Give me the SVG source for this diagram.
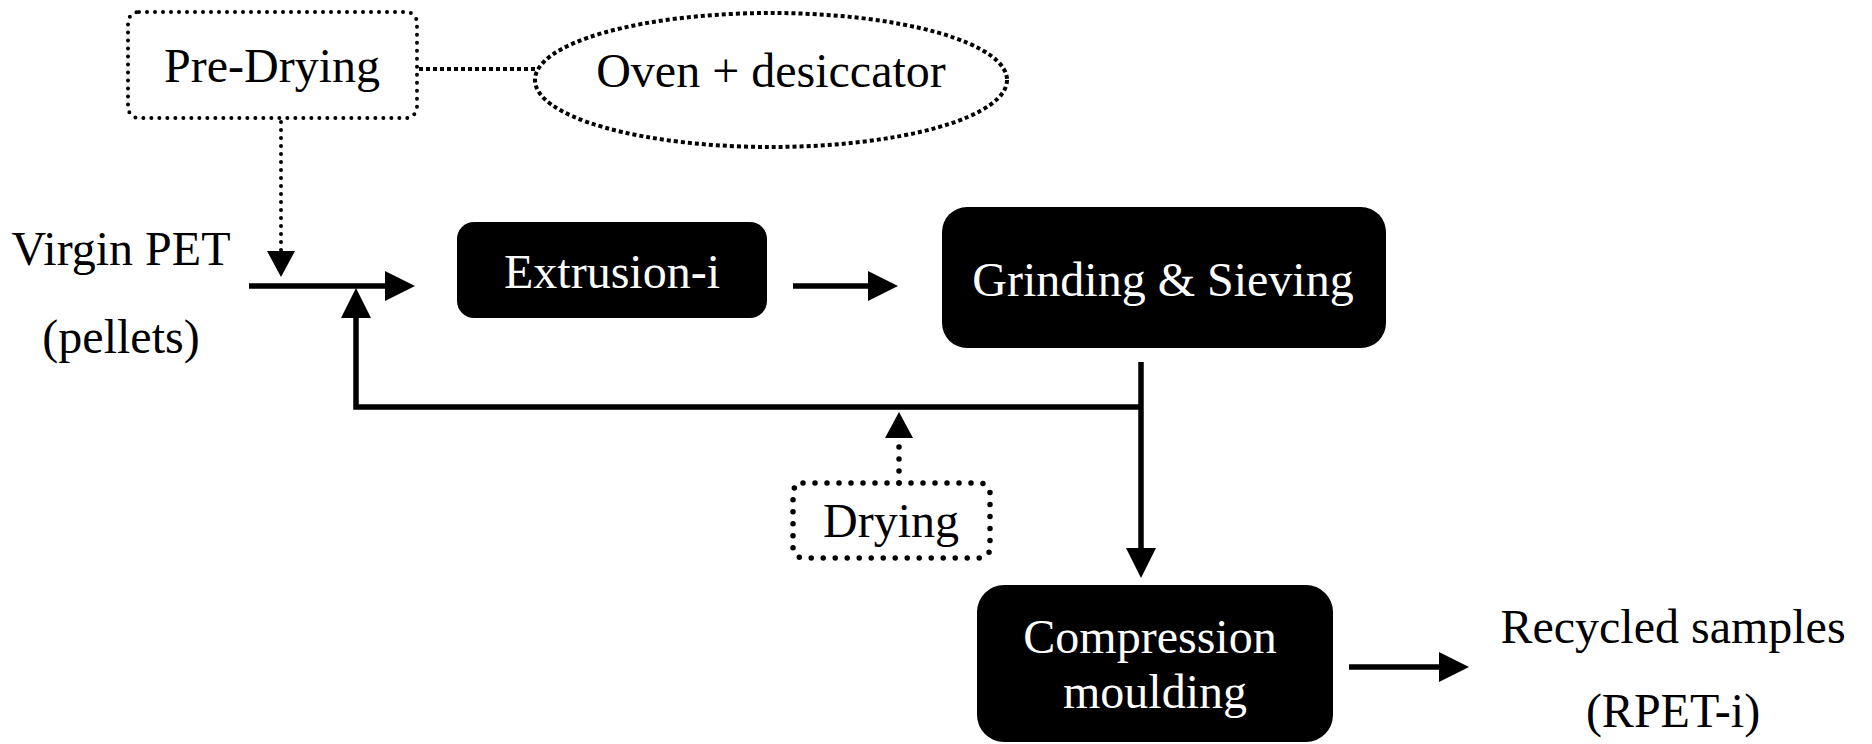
<svg xmlns="http://www.w3.org/2000/svg" width="1872" height="744" viewBox="0 0 1872 744">
<style>
text{font-family:"Liberation Serif","Times New Roman",serif;font-size:48px;text-anchor:middle;fill:#000}
.w{fill:#fff}
.blk{fill:#000;stroke:none}
.dotbox{fill:none;stroke:#000;stroke-width:4;stroke-linecap:round;stroke-dasharray:0 8}
.dotbig{fill:none;stroke:#000;stroke-width:5.5;stroke-linecap:round;stroke-dasharray:0 12}
.sq{fill:none;stroke:#000;stroke-width:4;stroke-dasharray:4 3}
.ln{fill:none;stroke:#000;stroke-width:5.5}
</style>
<defs>
<marker id="ah" markerUnits="userSpaceOnUse" markerWidth="30" markerHeight="30" refX="1" refY="15" orient="auto" viewBox="0 0 30 30">
<path d="M0,0 L30,15 L0,30 z" fill="#000"/>
</marker>
<marker id="ahs" markerUnits="userSpaceOnUse" markerWidth="26" markerHeight="28" refX="1" refY="14" orient="auto" viewBox="0 0 26 28">
<path d="M0,0 L26,14 L0,28 z" fill="#000"/>
</marker>
</defs>
<g id="connectors">
<line class="sq" x1="419" y1="69" x2="535" y2="69"/>
<line class="dotbox" x1="281" y1="122" x2="281" y2="252" marker-end="url(#ahs)"/>
<line class="ln" x1="249" y1="286" x2="386" y2="286" marker-end="url(#ah)"/>
<line class="ln" x1="793" y1="286" x2="869" y2="286" marker-end="url(#ah)"/>
<line class="ln" x1="1141" y1="362" x2="1141" y2="549" marker-end="url(#ah)"/>
<polyline class="ln" points="1141,407 356,407 356,317" marker-end="url(#ah)"/>
<line class="dotbig" x1="899" y1="483" x2="899" y2="437" marker-end="url(#ahs)"/>
<line class="ln" x1="1349" y1="667" x2="1440" y2="667" marker-end="url(#ah)"/>
</g>
<g id="predrying">
<rect class="dotbox" x="128" y="12" width="289" height="106" rx="11"/>
<text x="272" y="82">Pre-Drying</text>
</g>
<g id="oven">
<ellipse class="sq" cx="771" cy="80" rx="236" ry="67"/>
<text x="771" y="87">Oven + desiccator</text>
</g>
<g id="virgin">
<text x="121" y="265">Virgin PET</text>
<text x="121" y="353">(pellets)</text>
</g>
<g id="extrusion">
<rect class="blk" x="457" y="222" width="310" height="96" rx="17"/>
<text class="w" x="612" y="288">Extrusion-i</text>
</g>
<g id="grinding">
<rect class="blk" x="942" y="207" width="444" height="141" rx="25"/>
<text class="w" x="1163" y="296">Grinding &amp; Sieving</text>
</g>
<g id="drying">
<rect class="dotbig" x="793" y="483" width="197" height="75" rx="10"/>
<text x="891" y="537">Drying</text>
</g>
<g id="compression">
<rect class="blk" x="977" y="585" width="356" height="157" rx="27"/>
<text class="w" x="1150" y="653">Compression</text>
<text class="w" x="1155" y="708">moulding</text>
</g>
<g id="recycled">
<text x="1673" y="643">Recycled samples</text>
<text x="1673" y="727">(RPET-i)</text>
</g>
</svg>
